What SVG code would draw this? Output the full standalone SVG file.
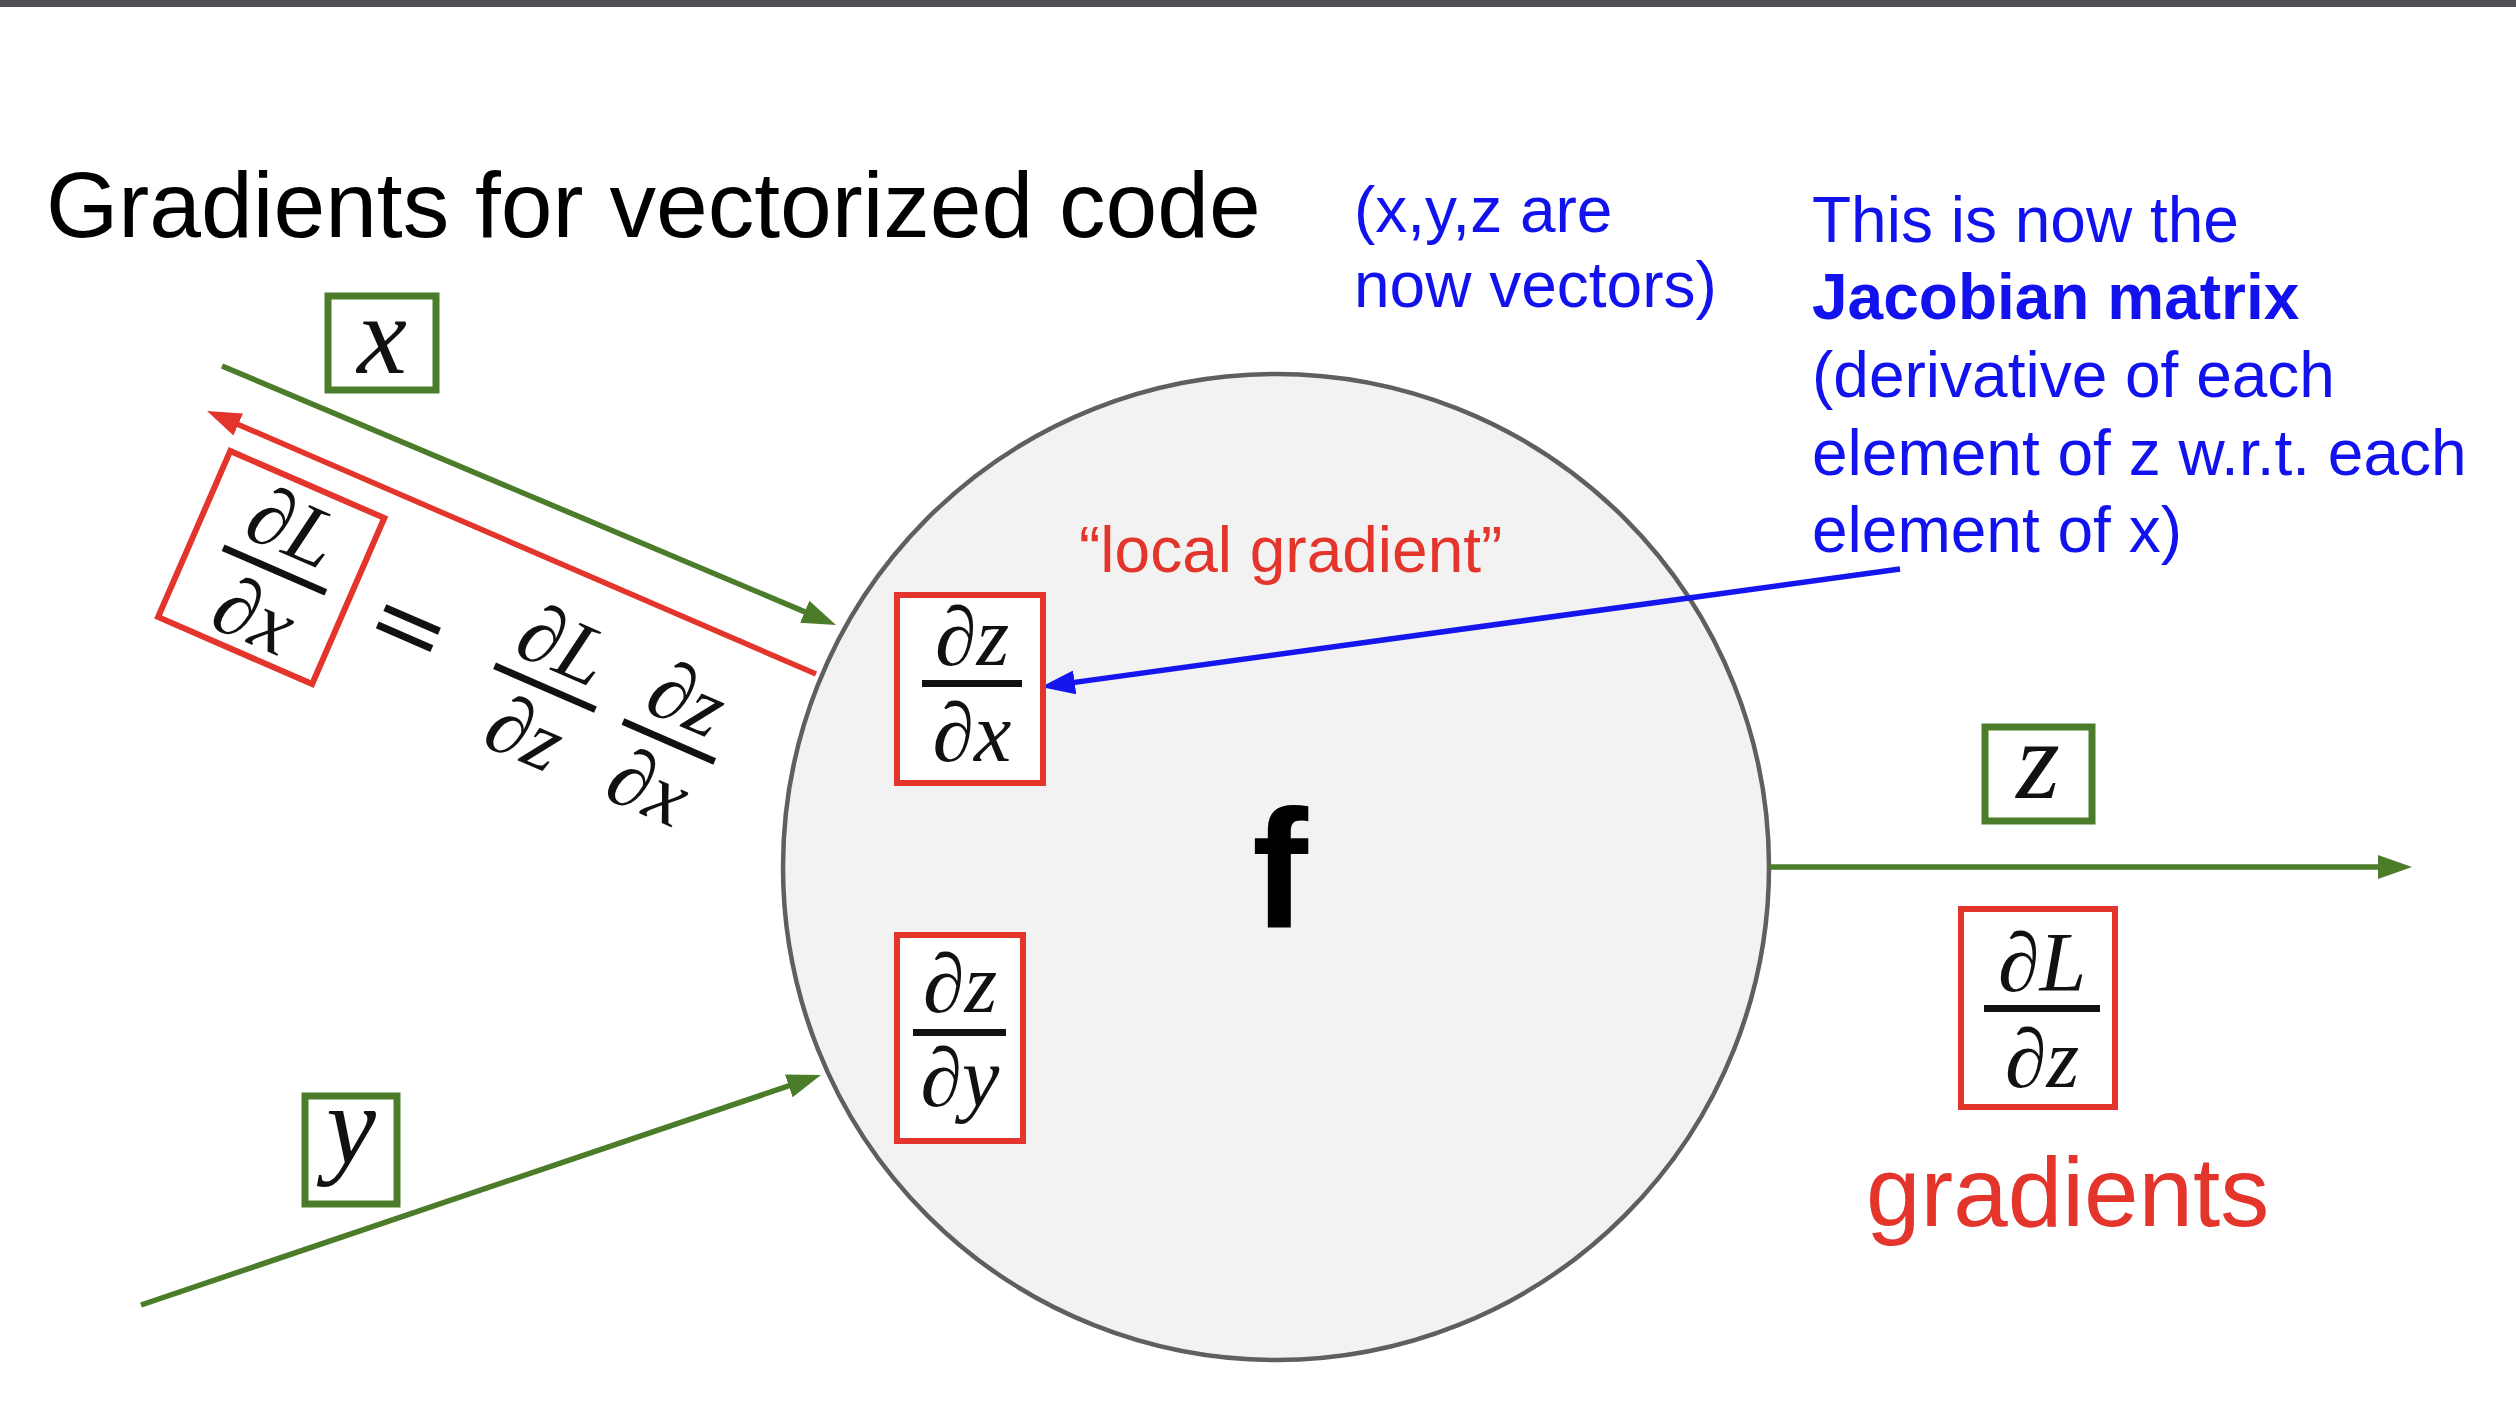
<svg xmlns="http://www.w3.org/2000/svg" width="2516" height="1418" viewBox="0 0 2516 1418">
<style>
.sans{font-family:"Liberation Sans",Arial,sans-serif}
.blue{fill:#1212ee;font-size:64px}
.red{fill:#e3352b}
.m{font-family:"Liberation Serif","Times New Roman",serif;font-style:italic;font-size:84px;fill:#111}
.big{font-size:112px}
.gbox{fill:#ffffff;stroke:#4a7c2a;stroke-width:7}
.rbox{fill:#ffffff;stroke:#e3352b;stroke-width:6}
.bar{fill:#111}
.g{stroke:#4a7c2a;stroke-width:5.5;fill:none}
.r{stroke:#e3352b;stroke-width:5.5;fill:none}
.b{stroke:#1515ee;stroke-width:5.5;fill:none}
</style>
<defs>
<marker id="ag" viewBox="0 0 34 24" refX="24" refY="12" markerWidth="34" markerHeight="24" markerUnits="userSpaceOnUse" orient="auto"><path d="M0,0 L34,12 L0,24 z" fill="#4a7c2a"/></marker>
<marker id="ar" viewBox="0 0 34 24" refX="24" refY="12" markerWidth="34" markerHeight="24" markerUnits="userSpaceOnUse" orient="auto"><path d="M0,0 L34,12 L0,24 z" fill="#e3352b"/></marker>
<marker id="ab" viewBox="0 0 34 24" refX="24" refY="12" markerWidth="34" markerHeight="24" markerUnits="userSpaceOnUse" orient="auto"><path d="M0,0 L34,12 L0,24 z" fill="#1515ee"/></marker>
</defs>
<rect x="0" y="0" width="2516" height="1418" fill="#ffffff"/>
<rect x="0" y="0" width="2516" height="7" fill="#4f4f54"/>

<g id="title">
<text class="sans" x="46" y="237" font-size="93" fill="#000">Gradients for vectorized code</text>
</g>

<g id="note-vectors" class="sans blue">
<text x="1354" y="232">(x,y,z are</text>
<text x="1354" y="307">now vectors)</text>
</g>

<g id="note-jacobian" class="sans blue">
<text x="1812" y="242">This is now the</text>
<text x="1812" y="319" font-weight="bold">Jacobian matrix</text>
<text x="1812" y="397">(derivative of each</text>
<text x="1812" y="475">element of z w.r.t. each</text>
<text x="1812" y="552">element of x)</text>
</g>

<g id="node-f">
<circle cx="1276" cy="867" r="493" fill="#f2f2f2" stroke="#5f5f5f" stroke-width="4.5"/>
<text class="sans" x="1280" y="928" font-size="168" font-weight="bold" text-anchor="middle" fill="#000">f</text>
<text class="sans red" x="1079" y="572" font-size="64">“local gradient”</text>
</g>

<g id="connectors">
<line class="g" x1="222" y1="366" x2="826.8" y2="621.1" marker-end="url(#ag)"/>
<line class="r" x1="816" y1="674" x2="216.2" y2="415" marker-end="url(#ar)"/>
<line class="g" x1="141" y1="1305" x2="811.5" y2="1078.2" marker-end="url(#ag)"/>
<line class="b" x1="1900" y1="569" x2="1050.9" y2="685.6" marker-end="url(#ab)"/>
<line class="g" x1="1770" y1="867" x2="2402" y2="867" marker-end="url(#ag)"/>
</g>

<g id="node-x">
<rect class="gbox" x="328" y="296" width="108" height="94"/>
<text class="m big" x="382" y="373" text-anchor="middle">x</text>
</g>

<g id="node-y">
<rect class="gbox" x="305" y="1096" width="92" height="108"/>
<text class="m big" x="351" y="1163" text-anchor="middle">y</text>
</g>

<g id="node-z">
<rect class="gbox" x="1985" y="727" width="107" height="94"/>
<text class="m big" x="2038" y="798" text-anchor="middle">z</text>
</g>

<g id="node-dzdx">
<rect class="rbox" x="897" y="595" width="146" height="188"/>
<text class="m" x="972" y="665" text-anchor="middle">∂z</text>
<rect class="bar" x="922" y="680" width="100" height="7"/>
<text class="m" x="972" y="761" text-anchor="middle">∂x</text>
</g>

<g id="node-dzdy">
<rect class="rbox" x="897" y="935" width="126" height="206"/>
<text class="m" x="960" y="1012" text-anchor="middle">∂z</text>
<rect class="bar" x="913" y="1029" width="93" height="7"/>
<text class="m" x="960" y="1106" text-anchor="middle">∂y</text>
</g>

<g id="node-dLdz">
<rect class="rbox" x="1961" y="909" width="154" height="198"/>
<text class="m" x="2042" y="991" text-anchor="middle">∂L</text>
<rect class="bar" x="1984" y="1005" width="116" height="7"/>
<text class="m" x="2042" y="1087" text-anchor="middle">∂z</text>
<text class="sans red" x="1866" y="1226" font-size="98">gradients</text>
</g>

<g id="node-dLdx" transform="translate(271,568) rotate(23.5)">
<rect class="rbox" x="-84" y="-91" width="168" height="181"/>
<text class="m" x="4" y="-18" text-anchor="middle">∂L</text>
<rect class="bar" x="-52" y="-3" width="112" height="7"/>
<text class="m" x="4" y="78" text-anchor="middle">∂x</text>
<text x="150" y="30" text-anchor="middle" font-family="'DejaVu Serif',serif" font-size="95" fill="#111">=</text>
<text class="m" x="299" y="-18" text-anchor="middle">∂L</text>
<rect class="bar" x="244" y="-3" width="110" height="7"/>
<text class="m" x="299" y="78" text-anchor="middle">∂z</text>
<text class="m" x="434" y="-18" text-anchor="middle">∂z</text>
<rect class="bar" x="384" y="-3" width="100" height="7"/>
<text class="m" x="434" y="78" text-anchor="middle">∂x</text>
</g>
</svg>
